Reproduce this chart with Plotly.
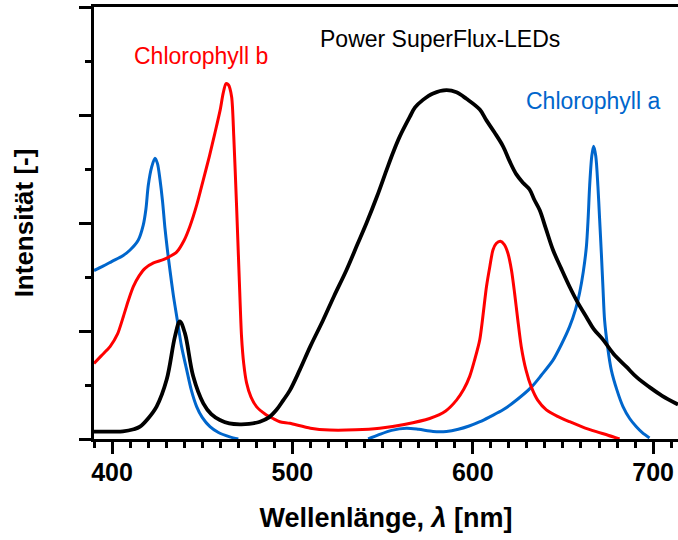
import plotly.graph_objects as go

# Power SuperFlux-LEDs spectrum (black)
led_x = [390, 400, 406, 412, 415.5, 420, 424.7, 430.3, 434.9, 437.6, 440.4, 445, 450.6, 455, 459.8, 465, 470.9,
         476, 482, 487, 491.2, 495, 498.6, 504.1, 510, 517, 523, 530, 536, 541.1, 547, 552.2, 556, 559.5, 565,
         568, 572.4, 578, 585.4, 591, 596.5, 603.9, 607.6, 612, 616.8, 620.5, 624.2, 628, 631.5, 634, 637.1,
         640.5, 644.5, 649, 653.7, 658, 663, 667, 672.2, 678, 685.1, 691, 698, 705, 713.8]
led_y = [0.068, 0.068, 0.07, 0.09, 0.114, 0.19, 0.30, 0.55, 0.95, 1.09, 0.98, 0.58, 0.33, 0.23, 0.176, 0.145, 0.136,
         0.14, 0.16, 0.20, 0.27, 0.36, 0.45, 0.64, 0.86, 1.10, 1.32, 1.565, 1.80, 2.00, 2.25, 2.49, 2.66, 2.80, 2.98,
         3.07, 3.14, 3.20, 3.23, 3.21, 3.15, 3.05, 2.95, 2.84, 2.71, 2.57, 2.45, 2.37, 2.31, 2.22, 2.12,
         1.95, 1.75, 1.58, 1.41, 1.27, 1.13, 1.02, 0.92, 0.79, 0.67, 0.57, 0.48, 0.40, 0.32]

# Chlorophyll b absorption (red)
chlb_x = [390, 394, 398.9, 403, 406.2, 409, 411.8, 415, 418.3, 423, 428.4, 432, 435.8, 440, 443.2, 447, 450.6,
          454, 457, 460, 461.6, 463.2, 464.5, 466.3, 467.5, 469, 470.5, 471.8, 473, 474.6, 477, 480.1, 485,
          489.3, 493, 498.6, 510, 520.7, 535, 548.4, 562, 576.1, 585, 591, 595, 598.3, 601, 603.9, 607.6,
          609.5, 611.2, 613, 615.3, 617.5, 619.5, 621.5, 623.2, 625, 626.9, 629.5, 632.5, 636, 640.8, 647,
          653.7, 661, 668.5, 675, 681.4]
chlb_y = [0.70, 0.77, 0.855, 0.97, 1.13, 1.28, 1.41, 1.51, 1.58, 1.63, 1.66, 1.69, 1.73, 1.84, 1.97, 2.17, 2.40,
          2.62, 2.83, 3.05, 3.20, 3.29, 3.28, 3.17, 2.80, 2.18, 1.50, 0.95, 0.70, 0.52, 0.39, 0.30, 0.23,
          0.19, 0.16, 0.145, 0.10, 0.083, 0.085, 0.10, 0.135, 0.19, 0.26, 0.36, 0.46, 0.58, 0.73, 0.92, 1.41,
          1.60, 1.75, 1.81, 1.83, 1.80, 1.72, 1.56, 1.35, 1.10, 0.855, 0.64, 0.48, 0.36, 0.27, 0.21,
          0.16, 0.11, 0.068, 0.035, 0.0]

# Chlorophyll a absorption (blue); None separates the part below the axis
chla_x = [390, 395, 400, 406.2, 410, 414.5, 417.3, 418.8, 420.1, 422, 423.8, 425.2, 426.6, 428, 429.3,
          430.7, 432.1, 434, 436.2, 438.5, 441.4, 444, 446.9, 450, 454.3, 459, 465.3, 470,
          None,
          542, 548, 555, 563.2, 570, 578, 585.4, 592, 598, 604, 610, 616.8, 625, 632.5, 638, 644.5, 649,
          653.7, 657, 659.2, 661.3, 663, 664, 664.8, 666, 667, 668.2, 669.4, 670.3, 671.3, 672.2, 673.1,
          674.8, 676.8, 680, 683.3, 687, 690.7, 694, 698]
chla_y = [1.56, 1.60, 1.645, 1.70, 1.75, 1.84, 1.98, 2.13, 2.35, 2.52, 2.60, 2.55, 2.40, 2.20, 1.96,
          1.75, 1.565, 1.33, 1.10, 0.86, 0.64, 0.45, 0.30, 0.20, 0.114, 0.06, 0.02, 0.0,
          None,
          0.0, 0.04, 0.08, 0.10, 0.09, 0.07, 0.07, 0.09, 0.12, 0.16, 0.21, 0.27, 0.37, 0.48, 0.59, 0.73, 0.87,
          1.04, 1.20, 1.35, 1.55, 1.78, 2.05, 2.34, 2.62, 2.71, 2.62, 2.34, 2.05, 1.72, 1.40, 1.10,
          0.85, 0.64, 0.45, 0.30, 0.19, 0.114, 0.06, 0.01]

x_ticks = [400, 500, 600, 700]
x_tick_labels = ["400", "500", "600", "700"]

FONT = "Liberation Sans, Arial, sans-serif"
RED = "#FF0000"
BLUE = "#0066CC"

fig = go.Figure()
fig.add_trace(go.Scatter(x=chla_x, y=chla_y, mode="lines", connectgaps=False,
                         line=dict(color=BLUE, width=3, shape="spline", smoothing=0.8),
                         name="Chlorophyll a", showlegend=False))
fig.add_trace(go.Scatter(x=chlb_x, y=chlb_y, mode="lines",
                         line=dict(color=RED, width=3, shape="spline", smoothing=0.7),
                         name="Chlorophyll b", showlegend=False))
fig.add_trace(go.Scatter(x=led_x, y=led_y, mode="lines",
                         line=dict(color="black", width=3.8, shape="spline", smoothing=1.0),
                         name="Power SuperFlux-LEDs", showlegend=False))

fig.add_annotation(x=582, y=3.70, xref="x", yref="y", text="Power SuperFlux-LEDs", showarrow=False,
                   font=dict(family=FONT, size=23, color="black"), xanchor="center", yanchor="middle")
fig.add_annotation(x=449.3, y=3.55, xref="x", yref="y", text="Chlorophyll b", showarrow=False,
                   font=dict(family=FONT, size=23, color=RED), xanchor="center", yanchor="middle")
fig.add_annotation(x=666.4, y=3.13, xref="x", yref="y", text="Chlorophyll a", showarrow=False,
                   font=dict(family=FONT, size=23, color=BLUE), xanchor="center", yanchor="middle")

fig.update_layout(
    width=678, height=540,
    margin=dict(l=94, r=0, t=7, b=101),
    paper_bgcolor="white", plot_bgcolor="white",
    font=dict(family=FONT, color="black"),
    xaxis=dict(
        range=[390, 713.8], showgrid=False, zeroline=False,
        showline=True, linecolor="black", linewidth=3, mirror=True,
        ticks="outside", ticklen=12, tickwidth=3, tickcolor="black",
        tickvals=x_ticks, ticktext=x_tick_labels, ticklabelstandoff=-3,
        tickfont=dict(family=FONT, size=25, color="black", weight="bold"),
        minor=dict(ticks="outside", ticklen=6, tickwidth=2.5, tickcolor="black", dtick=10, tick0=390,
                   showgrid=False),
        title=dict(text="Wellenlänge, <i>λ</i> [nm]", font=dict(family=FONT, size=27, color="black", weight="bold"),
                   standoff=24),
    ),
    yaxis=dict(
        range=[0, 4], showgrid=False, zeroline=False,
        showline=True, linecolor="black", linewidth=3, mirror=False,
        ticks="outside", ticklen=12, tickwidth=3, tickcolor="black",
        tick0=0, dtick=1, showticklabels=False,
        minor=dict(ticks="outside", ticklen=6, tickwidth=2.5, tickcolor="black", dtick=0.5, tick0=0,
                   showgrid=False),
        title=dict(text="Intensität [-]", font=dict(family=FONT, size=26, color="black", weight="bold"),
                   standoff=38),
    ),
)

fig.write_html("out.html")
